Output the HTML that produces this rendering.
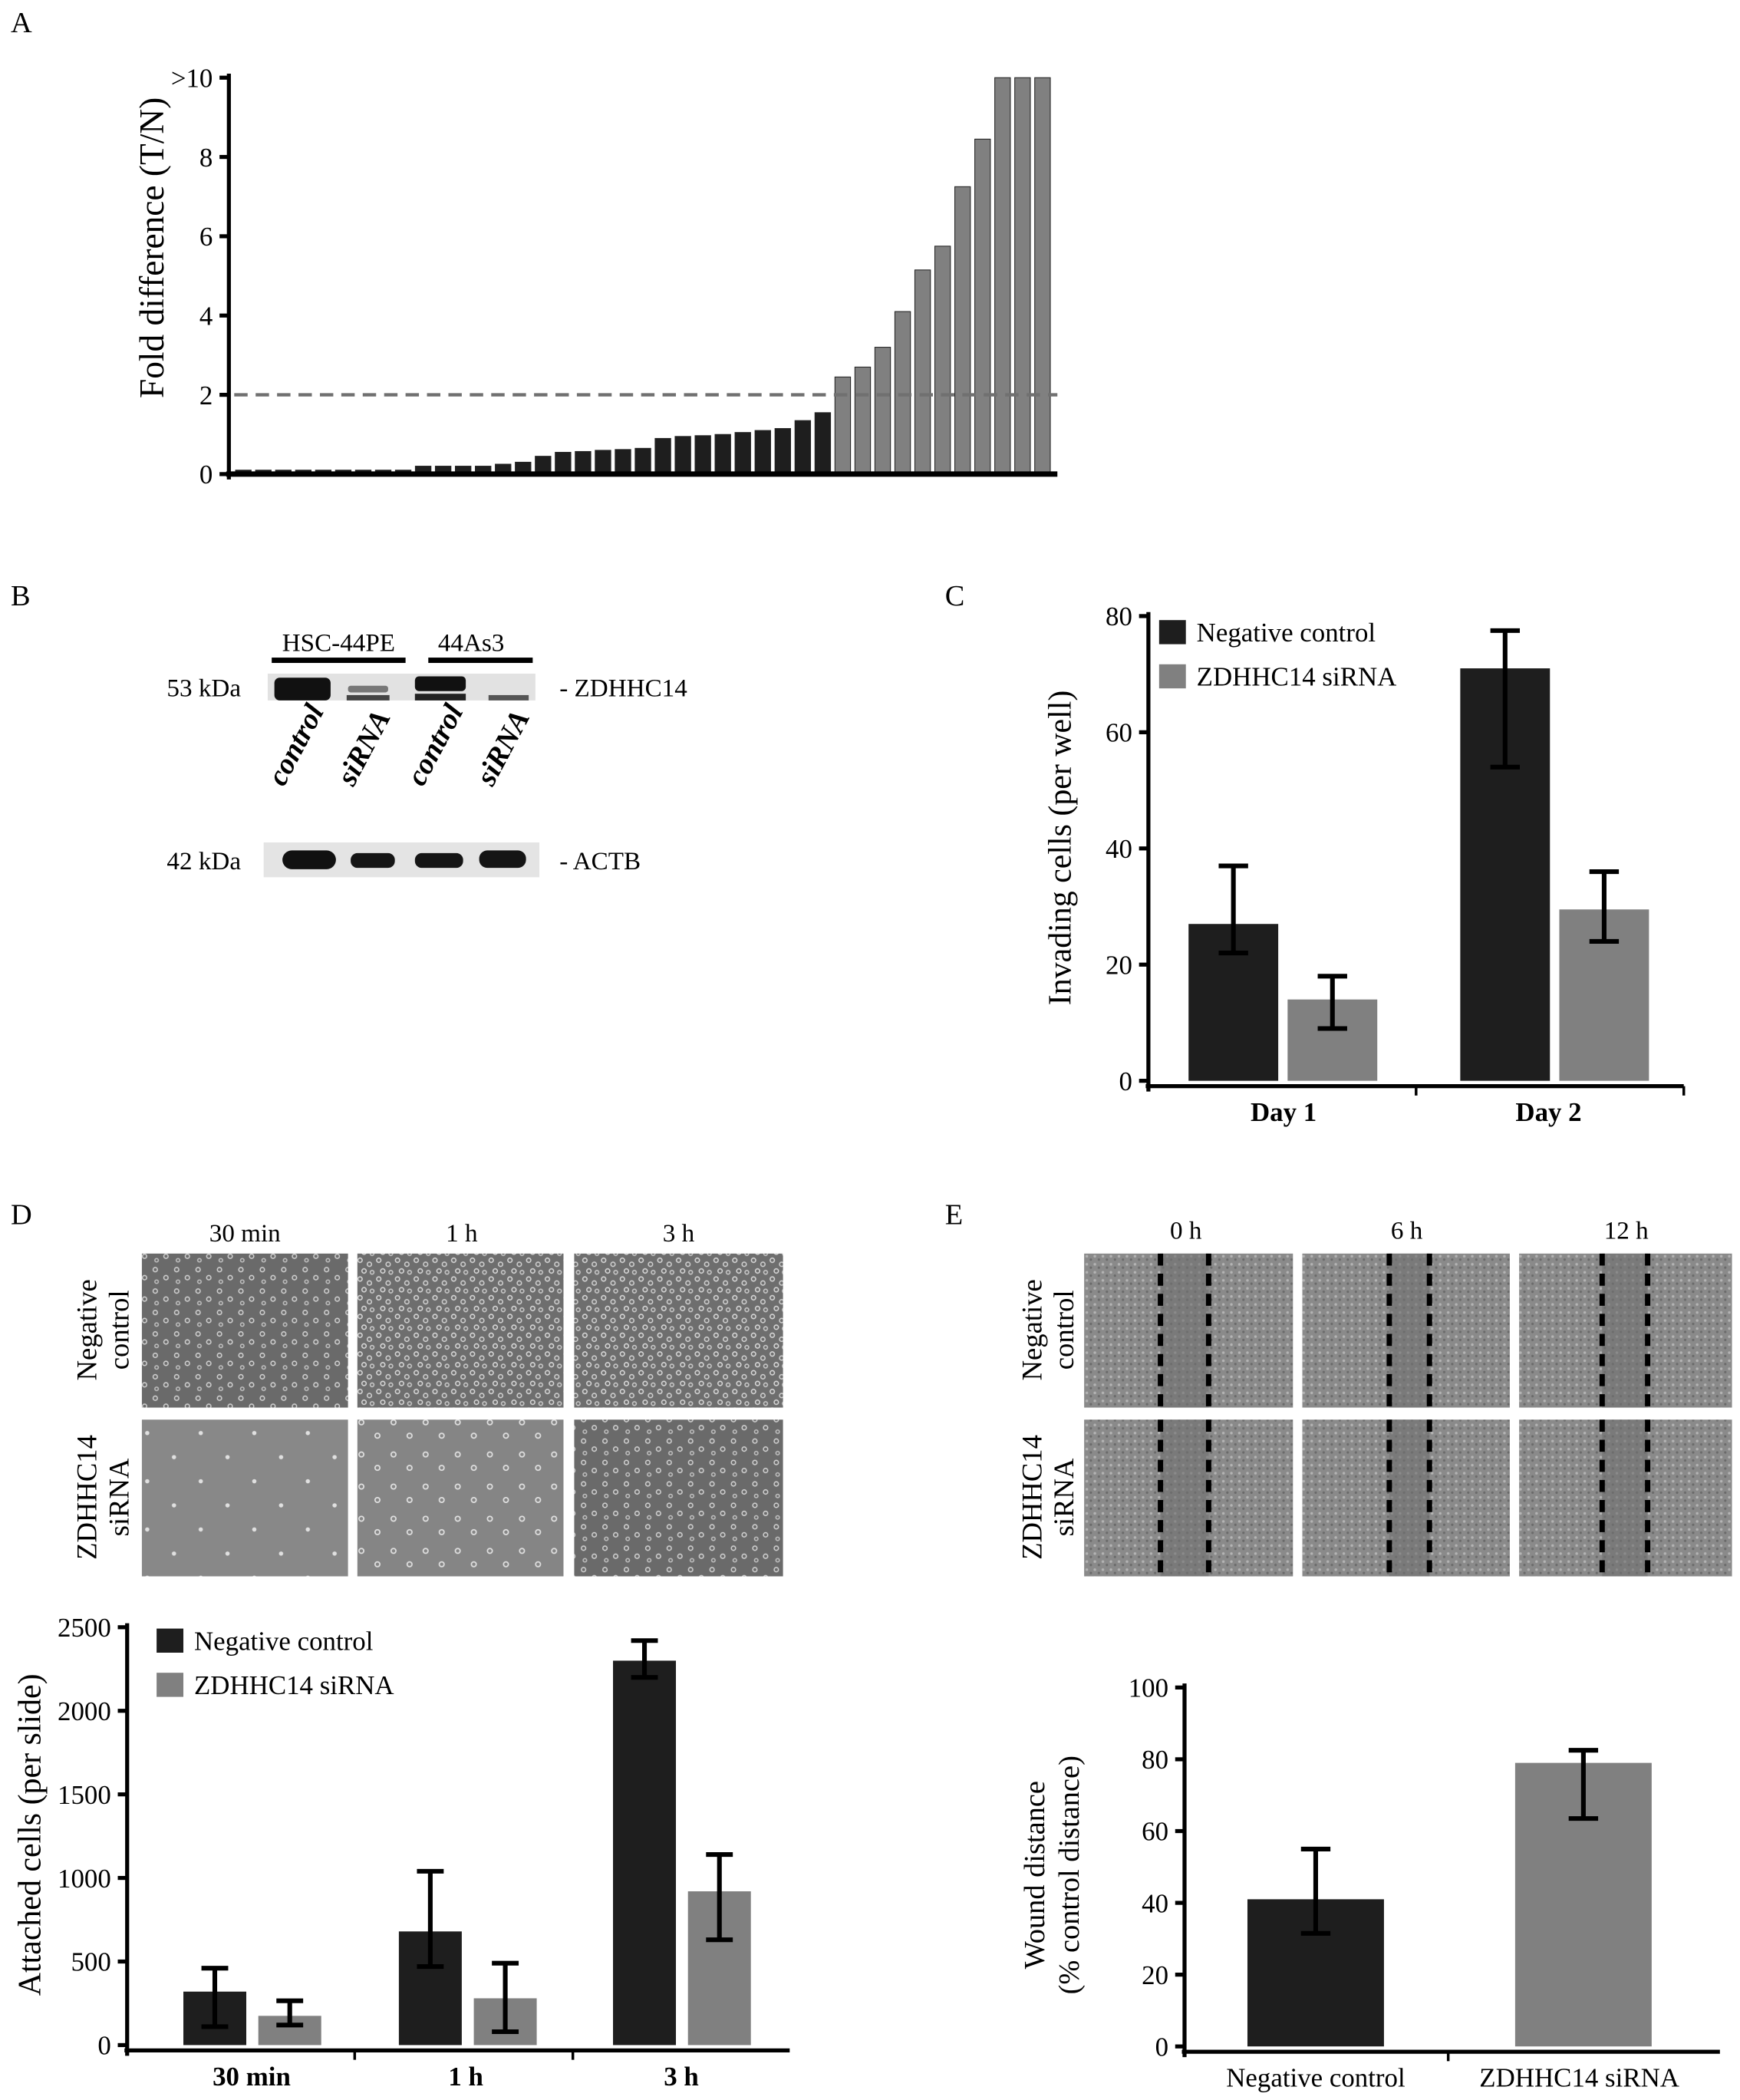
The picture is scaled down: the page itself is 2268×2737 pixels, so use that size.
<!DOCTYPE html>
<html><head><meta charset="utf-8"><style>
html,body{margin:0;padding:0;background:#fff}
svg{display:block;font-family:"Liberation Serif",serif}
</style></head><body>
<svg id="fig" width="2268" height="2737" viewBox="0 0 1300 1568" preserveAspectRatio="none" xmlns="http://www.w3.org/2000/svg">
<defs>
<pattern id="cellsDense" width="14" height="14" patternUnits="userSpaceOnUse">
<rect width="14" height="14" fill="#6e6e6e"/>
<circle cx="3" cy="3" r="1.6" fill="none" stroke="#d8d8d8" stroke-width="0.9"/>
<circle cx="10" cy="6" r="1.6" fill="none" stroke="#d0d0d0" stroke-width="0.9"/>
<circle cx="6" cy="11" r="1.6" fill="none" stroke="#d8d8d8" stroke-width="0.9"/>
<circle cx="12" cy="12" r="1.4" fill="none" stroke="#c8c8c8" stroke-width="0.9"/>
</pattern>
<pattern id="cellsMed" width="16" height="16" patternUnits="userSpaceOnUse">
<rect width="16" height="16" fill="#6a6a6a"/>
<circle cx="4" cy="4" r="1.6" fill="none" stroke="#d0d0d0" stroke-width="0.9"/>
<circle cx="12" cy="10" r="1.6" fill="none" stroke="#d0d0d0" stroke-width="0.9"/>
<circle cx="5" cy="13" r="1.3" fill="none" stroke="#c0c0c0" stroke-width="0.9"/>
</pattern>
<pattern id="cellsSparse" width="40" height="36" patternUnits="userSpaceOnUse">
<rect width="40" height="36" fill="#888"/>
<circle cx="10" cy="8" r="1.6" fill="#e0e0e0"/>
<circle cx="30" cy="26" r="1.6" fill="#e0e0e0"/>
</pattern>
<pattern id="cellsSparse2" width="24" height="24" patternUnits="userSpaceOnUse">
<rect width="24" height="24" fill="#858585"/>
<circle cx="6" cy="6" r="1.8" fill="none" stroke="#e0e0e0"/>
<circle cx="18" cy="16" r="1.8" fill="none" stroke="#e0e0e0"/>
</pattern>
<pattern id="wound" width="6" height="6" patternUnits="userSpaceOnUse">
<rect width="6" height="6" fill="#8a8a8a"/>
<circle cx="2" cy="2" r="1" fill="#b4b4b4"/>
<circle cx="5" cy="4.5" r="0.9" fill="#6a6a6a"/>
</pattern>
</defs>

<text x="8" y="24" font-size="22">A</text>
<text x="8" y="452" font-size="22">B</text>
<text x="706" y="452" font-size="22">C</text>
<text x="8" y="914" font-size="22">D</text>
<text x="706" y="914" font-size="22">E</text>

<g id="chartA"></g>
<g id="chartC"></g>
<g id="chartD"></g>
<g id="chartE"></g>

<g font-size="19">
<text x="253" y="486" text-anchor="middle">HSC-44PE</text>
<text x="352" y="486" text-anchor="middle">44As3</text>
<rect x="203" y="491" width="100" height="4" fill="#000"/>
<rect x="320" y="491" width="78" height="4" fill="#000"/>
<text x="180" y="520" text-anchor="end">53 kDa</text>
<rect x="200" y="503" width="200" height="20" fill="#e2e2e2"/>
<rect x="205" y="506" width="42" height="17" fill="#111" rx="4"/>
<rect x="260" y="512" width="30" height="5" fill="#777" rx="2"/>
<rect x="259" y="519" width="32" height="4" fill="#444"/>
<rect x="310" y="505" width="38" height="11" fill="#111" rx="3"/>
<rect x="310" y="518" width="38" height="5" fill="#222"/>
<rect x="365" y="519" width="30" height="4" fill="#555"/>
<text x="418" y="520">- ZDHHC14</text>
<g font-style="italic" font-size="22" font-weight="bold">
<text transform="translate(212,588) rotate(-62)">control</text>
<text transform="translate(264,588) rotate(-62)">siRNA</text>
<text transform="translate(316,588) rotate(-62)">control</text>
<text transform="translate(368,588) rotate(-62)">siRNA</text>
</g>
<text x="180" y="649" text-anchor="end">42 kDa</text>
<rect x="197" y="629" width="206" height="26" fill="#e4e4e4"/>
<rect x="211" y="635" width="40" height="14" rx="7" fill="#111"/>
<rect x="262" y="637" width="33" height="11" rx="5" fill="#151515"/>
<rect x="310" y="637" width="36" height="11" rx="5" fill="#151515"/>
<rect x="358" y="635" width="35" height="13" rx="6" fill="#151515"/>
<text x="418" y="649">- ACTB</text>
</g>

<g font-size="19">
<text x="183" y="927" text-anchor="middle">30 min</text>
<text x="345" y="927" text-anchor="middle">1 h</text>
<text x="507" y="927" text-anchor="middle">3 h</text>
<text transform="translate(72,993) rotate(-90)" text-anchor="middle" font-size="21">Negative</text>
<text transform="translate(96,993) rotate(-90)" text-anchor="middle" font-size="21">control</text>
<text transform="translate(72,1118) rotate(-90)" text-anchor="middle" font-size="21">ZDHHC14</text>
<text transform="translate(96,1118) rotate(-90)" text-anchor="middle" font-size="21">siRNA</text>
<rect x="106" y="936" width="154" height="115" fill="url(#cellsMed)"/>
<rect x="267" y="936" width="154" height="115" fill="url(#cellsDense)"/>
<rect x="429" y="936" width="156" height="115" fill="url(#cellsDense)"/>
<rect x="106" y="1060" width="154" height="117" fill="url(#cellsSparse)"/>
<rect x="267" y="1060" width="154" height="117" fill="url(#cellsSparse2)"/>
<rect x="429" y="1060" width="156" height="117" fill="url(#cellsMed)"/>
</g>

<g font-size="19">
<text x="886" y="925" text-anchor="middle">0 h</text>
<text x="1051" y="925" text-anchor="middle">6 h</text>
<text x="1215" y="925" text-anchor="middle">12 h</text>
<text transform="translate(778,993) rotate(-90)" text-anchor="middle" font-size="21">Negative</text>
<text transform="translate(802,993) rotate(-90)" text-anchor="middle" font-size="21">control</text>
<text transform="translate(778,1118) rotate(-90)" text-anchor="middle" font-size="21">ZDHHC14</text>
<text transform="translate(802,1118) rotate(-90)" text-anchor="middle" font-size="21">siRNA</text>
<g id="woundImgs"></g>
</g>
</svg>
<script>
const NS="http://www.w3.org/2000/svg";
function mk(parent,tag,attrs,text){const e=document.createElementNS(NS,tag);for(const k in attrs)e.setAttribute(k,attrs[k]);if(text!==undefined)e.textContent=text;parent.appendChild(e);return e;}

const wg=document.getElementById('woundImgs');
const wCols=[[810,156,867,903],[973,155,1038,1068],[1135,159,1197,1231]];
const wRows=[[936,115],[1060,117]];
wRows.forEach(r=>wCols.forEach(c=>{
  mk(wg,'rect',{x:c[0],y:r[0],width:c[1],height:r[1],fill:'url(#wound)'});
  mk(wg,'rect',{x:c[2],y:r[0],width:c[3]-c[2],height:r[1],fill:'#707070',opacity:0.6});
  mk(wg,'line',{x1:c[2],y1:r[0],x2:c[2],y2:r[0]+r[1],stroke:'#000','stroke-width':4,'stroke-dasharray':'9 6'});
  mk(wg,'line',{x1:c[3],y1:r[0],x2:c[3],y2:r[0]+r[1],stroke:'#000','stroke-width':4,'stroke-dasharray':'9 6'});
}));

const foldValues=[0.1,0.1,0.1,0.1,0.1,0.1,0.1,0.1,0.1,0.2,0.2,0.2,0.2,0.25,0.3,0.45,0.55,0.57,0.6,0.62,0.65,0.9,0.95,0.97,1.0,1.05,1.1,1.15,1.35,1.55,2.45,2.7,3.2,4.1,5.15,5.75,7.25,8.45,10,10,10];
const foldTicks=[0,2,4,6,8,10];
const foldTickLabels=["0","2","4","6","8",">10"];
const foldThreshold=2;

const invCategories=["Day 1","Day 2"];
const invNC=[27,71];
const invNCLo=[22,54];
const invNCHi=[37,77.5];
const invSi=[14,29.5];
const invSiLo=[9,24];
const invSiHi=[18,36];
const invTicks=[0,20,40,60,80];

const attCategories=["30 min","1 h","3 h"];
const attNC=[320,680,2300];
const attNCLo=[110,470,2200];
const attNCHi=[460,1040,2420];
const attSi=[175,280,920];
const attSiLo=[120,80,630];
const attSiHi=[265,490,1140];
const attTicks=[0,500,1000,1500,2000,2500];

const woundCategories=["Negative control","ZDHHC14 siRNA"];
const woundValues=[41,79];
const woundLo=[31.5,63.5];
const woundHi=[55,82.5];
const woundTicks=[0,20,40,60,80,100];

const DARK="#1e1e1e", GREY="#808080";

(function(){
  const g=document.getElementById('chartA');
  const x0=171,y0=354,yTop=58,xEnd=788,vmax=10;
  const y=v=>y0-(v/vmax)*(y0-yTop);
  const n=foldValues.length, pitch=(xEnd-176)/n;
  const xb=i=>176+i*pitch;
  foldValues.forEach((v,i)=>{
    const r=mk(g,'rect',{x:xb(i),y:y(v),width:pitch*0.78,height:y0-y(v),fill:v>foldThreshold?GREY:DARK,stroke:'#222','stroke-width':0.6});
    
    
  });
  const dl=mk(g,'line',{x1:175,x2:xEnd+2,y1:y(foldThreshold),y2:y(foldThreshold),stroke:'#707070','stroke-width':2.5,'stroke-dasharray':'10 6'});
  
  
  mk(g,'line',{x1:x0,x2:x0,y1:yTop-3,y2:y0+4,stroke:'#000','stroke-width':3});
  mk(g,'line',{x1:x0-2,x2:xEnd+2,y1:y0,y2:y0,stroke:'#000','stroke-width':4});
  foldTicks.forEach((t,i)=>{
    mk(g,'line',{x1:x0-7,x2:x0,y1:y(t),y2:y(t),stroke:'#000','stroke-width':3});
    const tl=mk(g,'text',{x:x0-12,y:y(t)+7,'text-anchor':'end','font-size':20},foldTickLabels[i]);
    
    
  });
  const yt=mk(g,'text',{transform:'translate(122,185) rotate(-90)','text-anchor':'middle','font-size':26},'Fold difference (T/N)');
  
  
})();

function grouped(id,o){
  const g=document.getElementById(id);
  const y=v=>o.y0-(v/o.vmax)*(o.y0-o.yTop);
  function bar(x,w,v,lo,hi,fill,name){
    const r=mk(g,'rect',{x:x,y:y(v),width:w,height:o.y0-y(v),fill:fill});
    
    
    const cx=x+w/2, cw=o.cap;
    const eb=mk(g,'path',{d:`M${cx-cw} ${y(hi)}H${cx+cw}M${cx} ${y(hi)}V${y(lo)}M${cx-cw} ${y(lo)}H${cx+cw}`,stroke:'#000','stroke-width':3.5,fill:'none'});
    
    
  }
  o.series.forEach(s=>{
    s.vals.forEach((v,i)=>bar(o.xs[i]+s.off,o.bw,v,s.lo[i],s.hi[i],s.fill,s.name));
  });
  mk(g,'line',{x1:o.x0,x2:o.x0,y1:o.yTop-3,y2:o.y0+8,stroke:'#000','stroke-width':3});
  mk(g,'line',{x1:o.x0-2,x2:o.xEnd,y1:o.y0+4,y2:o.y0+4,stroke:'#000','stroke-width':3});
  o.sep.forEach(sx=>mk(g,'line',{x1:sx,x2:sx,y1:o.y0+4,y2:o.y0+11,stroke:'#000','stroke-width':2}));
  o.ticks.forEach(t=>{
    mk(g,'line',{x1:o.x0-7,x2:o.x0,y1:y(t),y2:y(t),stroke:'#000','stroke-width':3});
    const tl=mk(g,'text',{x:o.x0-12,y:y(t)+7,'text-anchor':'end','font-size':20},String(t));
    
    
  });
  o.cats.forEach((c,i)=>{
    const tl=mk(g,'text',{x:o.labX[i],y:o.y0+30,'text-anchor':'middle','font-size':20,'font-weight':o.bold?'bold':'normal'},c);
    
    
  });
  o.ytitle.forEach((t,i)=>{
    const yt=mk(g,'text',{transform:`translate(${o.ytx[i]},${o.yty}) rotate(-90)`,'text-anchor':'middle','font-size':o.tfs},t);
    
    
  });
  if(o.legend){
    o.series.forEach((s,i)=>{
      const ly=o.legend[1]+i*33;
      const lr=mk(g,'rect',{x:o.legend[0],y:ly,width:20,height:18,fill:s.fill});
      
      
      const lt=mk(g,'text',{x:o.legend[0]+28,y:ly+16,'font-size':20},s.label);
      
      
    });
  }
}

grouped('chartC',{x0:858,y0:807,yTop:460,vmax:80,xEnd:1258,bw:67,cap:11,xs:[888,1091],
  series:[{vals:invNC,lo:invNCLo,hi:invNCHi,fill:DARK,off:0,name:'bar-negative-control',label:'Negative control'},
          {vals:invSi,lo:invSiLo,hi:invSiHi,fill:GREY,off:74,name:'bar-zdhhc14-sirna',label:'ZDHHC14 siRNA'}],
  sep:[1058,1258],ticks:invTicks,cats:invCategories,labX:[959,1157],bold:true,tfs:24,
  ytitle:['Invading cells (per well)'],ytx:[800],yty:633,legend:[866,463]});

grouped('chartD',{x0:95,y0:1527,yTop:1215,vmax:2500,xEnd:590,bw:47,cap:10,xs:[137,298,458],
  series:[{vals:attNC,lo:attNCLo,hi:attNCHi,fill:DARK,off:0,name:'bar-negative-control',label:'Negative control'},
          {vals:attSi,lo:attSiLo,hi:attSiHi,fill:GREY,off:56,name:'bar-zdhhc14-sirna',label:'ZDHHC14 siRNA'}],
  sep:[265,428],ticks:attTicks,cats:attCategories,labX:[188,348,509],bold:true,tfs:24,
  ytitle:['Attached cells (per slide)'],ytx:[30],yty:1370,legend:[117,1216]});

grouped('chartE',{x0:885,y0:1528,yTop:1260,vmax:100,xEnd:1285,bw:102,cap:11,xs:[932],
  series:[{vals:[woundValues[0]],lo:[woundLo[0]],hi:[woundHi[0]],fill:DARK,off:0,name:'bar-negative-control'}],
  sep:[1082],ticks:woundTicks,cats:woundCategories,labX:[983,1180],bold:false,tfs:22,
  ytitle:['Wound distance','(% control distance)'],ytx:[780,806],yty:1400});
(function(){
  const g=document.getElementById('chartE');
  const y=v=>1528-(v/100)*(1528-1260);
  const x=1132,w=102,cx=x+w/2;
  const r=mk(g,'rect',{x:x,y:y(woundValues[1]),width:w,height:1528-y(woundValues[1]),fill:GREY});
  
  
  const eb=mk(g,'path',{d:`M${cx-11} ${y(woundHi[1])}H${cx+11}M${cx} ${y(woundHi[1])}V${y(woundLo[1])}M${cx-11} ${y(woundLo[1])}H${cx+11}`,stroke:'#000','stroke-width':3.5,fill:'none'});
  
  
})();
</script>
</body></html>
